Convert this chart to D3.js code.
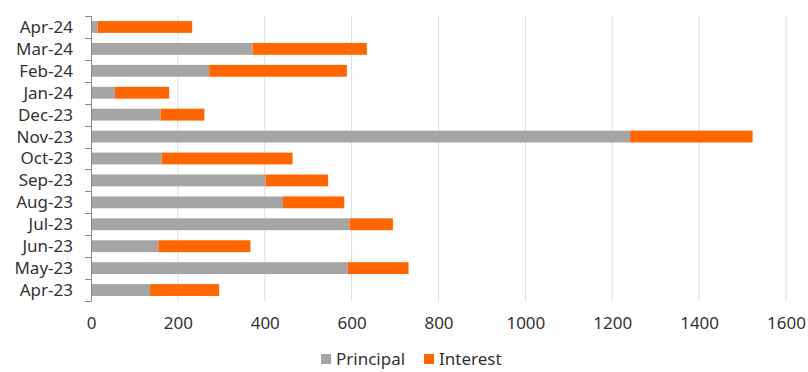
<!DOCTYPE html>
<html>
<head>
<meta charset="utf-8">
<script src="https://cdn.jsdelivr.net/npm/d3@7"></script>
<style>
  html, body { margin: 0; padding: 0; background: #fff; }
  svg { display: block; font-family: "Noto Sans", "DejaVu Sans", sans-serif; }
</style>
</head>
<body>
<svg id="chart" width="808" height="372"></svg>
<script>
// Monthly repayments, newest month on top
const months = ["Apr-24", "Mar-24", "Feb-24", "Jan-24", "Dec-23", "Nov-23", "Oct-23",
                "Sep-23", "Aug-23", "Jul-23", "Jun-23", "May-23", "Apr-23"];
const principal = [15, 372, 272, 55, 160, 1241, 163, 402, 442, 595, 155, 591, 136];
const interest  = [218, 263, 317, 125, 101, 282, 301, 144, 141, 100, 212, 140, 159];
const seriesNames = ["Principal", "Interest"];
const xTicks = [0, 200, 400, 600, 800, 1000, 1200, 1400, 1600];

const colors = { Principal: "#a5a5a5", Interest: "#ff6600" };
const textColor = "#333333";

const svg = d3.select("#chart");
const margin = { top: 16, right: 22, bottom: 71, left: 91 };
const width = 808 - margin.left - margin.right;
const height = 372 - margin.top - margin.bottom;

const rows = months.map((m, i) => ({ month: m, Principal: principal[i], Interest: interest[i] }));
const stacked = d3.stack().keys(seriesNames)(rows);

const x = d3.scaleLinear().domain([0, 1600]).range([0, width]);
const y = d3.scaleBand().domain(months).range([0, height]).paddingInner(0.46).paddingOuter(0.23);

const g = svg.append("g").attr("transform", `translate(${margin.left},${margin.top})`);

// vertical gridlines
g.append("g")
  .selectAll("line")
  .data(xTicks.filter(t => t > 0))
  .join("line")
  .attr("x1", d => x(d)).attr("x2", d => x(d))
  .attr("y1", 0).attr("y2", height)
  .attr("stroke", "#dcdcdc")
  .attr("stroke-width", 1);

// stacked bars
g.append("g")
  .selectAll("g")
  .data(stacked)
  .join("g")
  .attr("fill", d => colors[d.key])
  .selectAll("rect")
  .data(d => d)
  .join("rect")
  .attr("x", d => x(d[0]))
  .attr("y", d => y(d.data.month))
  .attr("width", d => x(d[1]) - x(d[0]))
  .attr("height", y.bandwidth());

// category axis with ticks between bands
const yAxis = g.append("g");
yAxis.append("line")
  .attr("x1", 0.5).attr("x2", 0.5)
  .attr("y1", 0).attr("y2", height)
  .attr("stroke", "#8c8c8c");
const step = height / months.length;
yAxis.selectAll("line.tick")
  .data(d3.range(months.length + 1))
  .join("line")
  .attr("class", "tick")
  .attr("x1", -6).attr("x2", 0.5)
  .attr("y1", d => Math.round(d * step) + 0.5)
  .attr("y2", d => Math.round(d * step) + 0.5)
  .attr("stroke", "#8c8c8c");
yAxis.selectAll("text")
  .data(months)
  .join("text")
  .attr("x", -18)
  .attr("y", d => y(d) + y.bandwidth() / 2)
  .attr("dy", "0.35em")
  .attr("text-anchor", "end")
  .attr("fill", textColor)
  .attr("font-size", 17)
  .text(d => d);

// value axis labels
const xAxis = g.append("g")
  .attr("transform", `translate(0,${height})`)
  .call(d3.axisBottom(x).tickValues(xTicks).tickSize(0).tickPadding(16).tickFormat(d3.format("d")));
xAxis.select(".domain").remove();
xAxis.selectAll("text")
  .attr("font-size", 17)
  .attr("fill", textColor)
  .attr("font-family", "\"Noto Sans\", sans-serif");

// legend
const legend = svg.append("g").attr("transform", "translate(321,359)");
const legendItems = [{ name: "Principal", x: 0 }, { name: "Interest", x: 103 }];
const li = legend.selectAll("g").data(legendItems).join("g")
  .attr("transform", d => `translate(${d.x},0)`);
li.append("rect")
  .attr("x", 0).attr("y", -5)
  .attr("width", 10).attr("height", 10)
  .attr("fill", d => colors[d.name]);
li.append("text")
  .attr("x", 15).attr("y", 0).attr("dy", "0.35em")
  .attr("font-size", 17)
  .attr("fill", textColor)
  .text(d => d.name);
</script>
</body>
</html>
